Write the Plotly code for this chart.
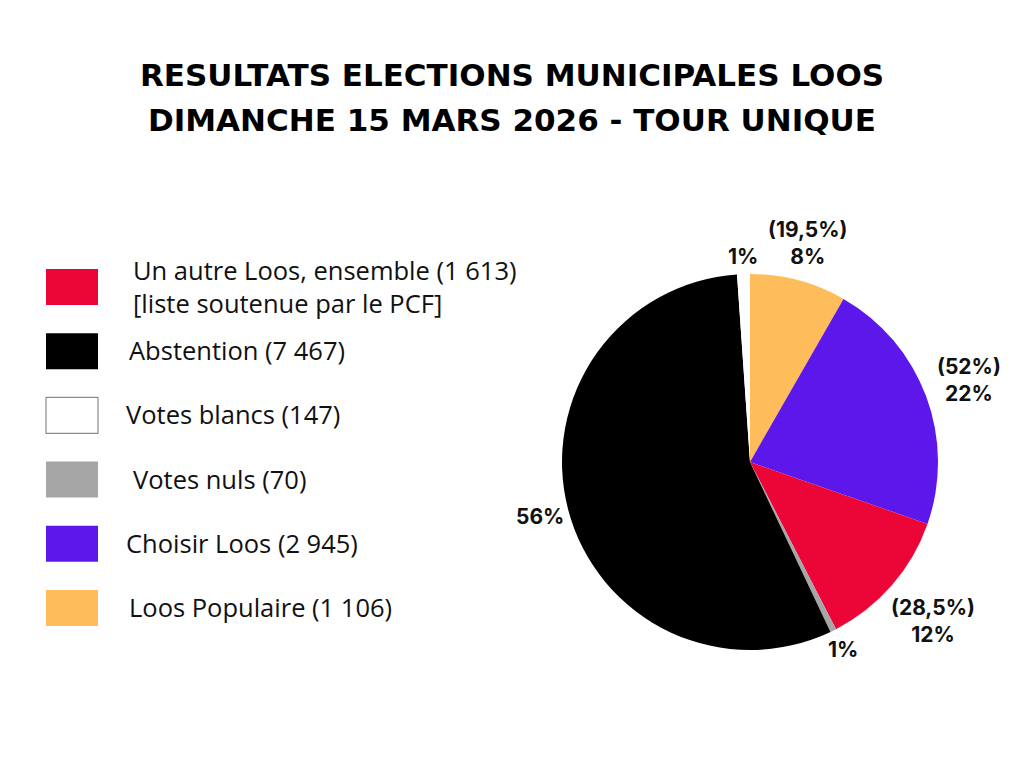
import math
import plotly.graph_objects as go

W, H = 1024, 768

# ---- data ----
categories = ["Loos Populaire", "Choisir Loos", "Un autre Loos, ensemble",
              "Votes nuls", "Abstention", "Votes blancs"]
values = [1106, 2945, 1613, 70, 7467, 147]
slice_colors = ["#FFBC5A", "#5C17EB", "#EB0637", "#A6A6A6", "#000000", "#FFFFFF"]
slice_labels = ["(19,5%)<br>8%", "(52%)<br>22%", "(28,5%)<br>12%", "1%", "56%", "1%"]

legend_labels = [
    "Un autre Loos, ensemble (1 613)<br>[liste soutenue par le PCF]",
    "Abstention (7 467)",
    "Votes blancs (147)",
    "Votes nuls (70)",
    "Choisir Loos (2 945)",
    "Loos Populaire (1 106)",
]
legend_colors = ["#EB0637", "#000000", "#FFFFFF", "#A6A6A6", "#5C17EB", "#FFBC5A"]
legend_text_x = [130.5, 126.5, 123.5, 130.5, 123.5, 126.5]

title_lines = ["RESULTATS ELECTIONS MUNICIPALES LOOS",
               "DIMANCHE 15 MARS 2026 - TOUR UNIQUE"]

# ---- pie geometry (domain) ----
dom_x = [562 / W, 938 / W]
dom_y = [1 - 650 / H, 1 - 274 / H]

fig = go.Figure(go.Pie(
    labels=categories,
    values=values,
    sort=False,
    direction="clockwise",
    rotation=0,
    marker=dict(colors=slice_colors, line=dict(width=0)),
    textinfo="none",
    hoverinfo="label+value+percent",
    domain=dict(x=dom_x, y=dom_y),
    showlegend=False,
))

shapes = []
annotations = []

# legend (drawn manually to match spacing)
for i, (lab, col) in enumerate(zip(legend_labels, legend_colors)):
    top = 269 + i * 64.2
    shapes.append(dict(
        type="rect", xref="paper", yref="paper",
        x0=46 / W, x1=98 / W, y0=1 - (top + 36) / H, y1=1 - top / H,
        fillcolor=col,
        line=dict(color="#8C8C8C" if col == "#FFFFFF" else col,
                  width=1.2 if col == "#FFFFFF" else 0),
    ))
    lines = lab.split("<br>")
    if len(lines) == 1:
        centers = [top + 17]
    else:
        centers = [top + 1, top + 34]
    for ln, yc in zip(lines, centers):
        annotations.append(dict(
            text=ln, xref="paper", yref="paper",
            x=legend_text_x[i] / W, y=1 - yc / H,
            xanchor="left", yanchor="middle", align="left",
            showarrow=False,
            font=dict(family="Open Sans", size=25.5, color="#111111"),
        ))

# slice labels, placed just outside the pie at each slice's mid-angle
cx = (dom_x[0] + dom_x[1]) / 2 * W
cy = (1 - (dom_y[0] + dom_y[1]) / 2) * H
R = min((dom_x[1] - dom_x[0]) * W, (dom_y[1] - dom_y[0]) * H) / 2
total = sum(values)
fs = 21
cum = 0.0
for v, lab in zip(values, slice_labels):
    mid = (cum + v / 2) / total * 2 * math.pi
    cum += v
    dx, dy = math.sin(mid), -math.cos(mid)
    lines = lab.split("<br>")
    w = max(len(s) for s in lines) * 0.6 * fs
    h = (len(lines) - 1) * 1.3 * fs + 0.9 * fs
    r = R + 9 + abs(dx) * w / 2 + abs(dy) * h / 2.4
    annotations.append(dict(
        text=lab, xref="paper", yref="paper",
        x=(cx + dx * r) / W, y=1 - (cy + dy * r) / H,
        xanchor="center", yanchor="middle", align="center",
        showarrow=False,
        font=dict(family="Inter", size=fs, color="#111111", weight="bold"),
    ))

for j, line in enumerate(title_lines):
    annotations.append(dict(
        text=line, xref="paper", yref="paper",
        x=0.5, y=1 - (75 + j * 45) / H,
        xanchor="center", yanchor="middle", showarrow=False,
        font=dict(family="DejaVu Sans", size=31, color="#000000", weight="bold"),
    ))

fig.update_layout(
    width=W, height=H,
    margin=dict(l=0, r=0, t=0, b=0),
    paper_bgcolor="white",
    plot_bgcolor="white",
    shapes=shapes,
    annotations=annotations,
)

fig.write_html("out.html", config={"displayModeBar": False},
               post_script="document.body.style.margin='0';")
